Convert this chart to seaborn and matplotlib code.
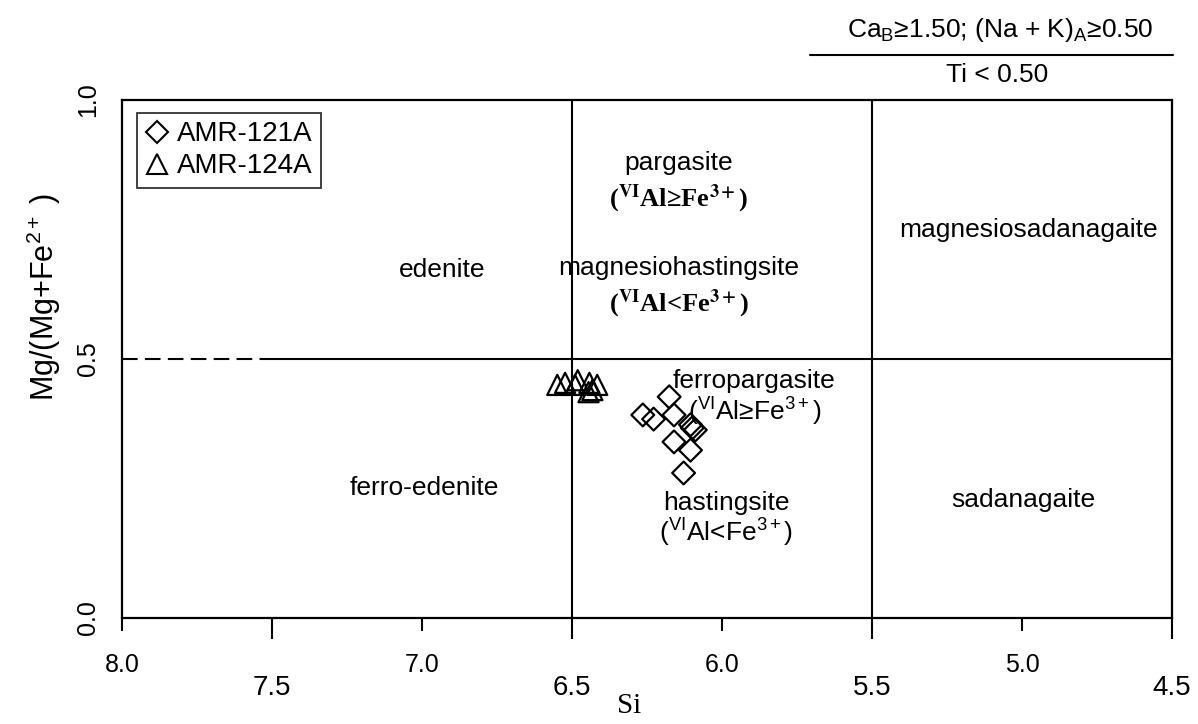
import matplotlib
matplotlib.use("Agg")
import matplotlib.pyplot as plt
from matplotlib.lines import Line2D
import seaborn as sns
import pandas as pd

# Amphibole analyses (Si apfu vs Mg/(Mg+Fe2+))
si_121a = [6.176, 6.264, 6.228, 6.160, 6.105, 6.089, 6.099, 6.160, 6.105, 6.128]
mg_121a = [0.427, 0.392, 0.384, 0.392, 0.373, 0.363, 0.367, 0.340, 0.324, 0.280]

si_124a = [6.549, 6.523, 6.490, 6.481, 6.442, 6.416, 6.445, 6.432]
mg_124a = [0.450, 0.454, 0.450, 0.459, 0.454, 0.450, 0.436, 0.440]

samples = ["AMR-121A", "AMR-124A"]

x_major = [8.0, 7.0, 6.0, 5.0]
x_minor = [7.5, 6.5, 5.5, 4.5]
y_ticks = [0.0, 0.5, 1.0]

sns.set_style("ticks")
plt.rcParams["font.family"] = ["Liberation Sans", "DejaVu Sans"]
plt.rcParams["mathtext.fontset"] = "custom"
plt.rcParams["mathtext.rm"] = "Liberation Sans"
plt.rcParams["mathtext.it"] = "Liberation Sans:italic"
plt.rcParams["mathtext.bf"] = "Liberation Sans:bold"
for key in ("text.color", "axes.labelcolor", "xtick.color", "ytick.color",
            "axes.edgecolor"):
    plt.rcParams[key] = "black"

W, H = 1198, 724
fig = plt.figure(figsize=(W / 100, H / 100), dpi=100)
ax = fig.add_axes([122 / W, 1 - 618 / H, 1050 / W, 518 / H])

df121 = pd.DataFrame({"Si": si_121a, "Mg#": mg_121a})
df124 = pd.DataFrame({"Si": si_124a, "Mg#": mg_124a})

sns.scatterplot(data=df121, x="Si", y="Mg#", marker="D", s=135,
                facecolor="none", edgecolor="black", linewidth=1.6, ax=ax,
                zorder=4)
sns.scatterplot(data=df124, x="Si", y="Mg#", marker="^", s=210,
                facecolor="none", edgecolor="black", linewidth=1.6, ax=ax,
                zorder=4)

ax.set_xlim(8.0, 4.5)
ax.set_ylim(0.0, 1.0)

# Classification boundaries
lw = 1.5
ax.plot([6.5, 6.5], [0, 1], color="black", lw=lw, zorder=2)
ax.plot([5.5, 5.5], [0, 1], color="black", lw=lw, zorder=2)
ax.plot([8.0, 7.5], [0.5, 0.5], color="black", lw=lw, ls=(0, (7.5, 3.5)), zorder=2)
ax.plot([7.5, 4.5], [0.5, 0.5], color="black", lw=lw, zorder=2)

for sp in ax.spines.values():
    sp.set_linewidth(1.6)
    sp.set_color("black")

# Staggered x tick labels
ax.set_xticks(x_major, labels=[f"{v:.1f}" for v in x_major])
ax.set_xticks(x_minor, labels=[f"{v:.1f}" for v in x_minor], minor=True)
ax.tick_params(axis="x", which="major", length=9, width=1.5, pad=16,
               labelsize=18, color="black")
ax.tick_params(axis="x", which="minor", length=15, width=1.5, pad=26,
               labelsize=20, color="black")
ax.set_yticks(y_ticks, labels=[f"{v:.1f}" for v in y_ticks])
ax.tick_params(axis="y", which="major", length=0, pad=16, labelsize=18)
for lab in ax.get_yticklabels():
    lab.set_rotation(90)
    lab.set_va("center")

ax.set_xlabel("Si", fontsize=21, family="Liberation Serif")
ax.xaxis.label.set_va("center")
ax.xaxis.set_label_coords(0.483, -0.170)
ax.set_ylabel(r"Mg/(Mg+Fe$^{2+}$ )", fontsize=22)
ax.yaxis.label.set_va("center")
ax.yaxis.set_label_coords(-0.074, 0.62)

# Field names
lab_kw = dict(ha="center", va="center", fontsize=19, zorder=3)
serif_kw = dict(ha="center", va="center", fontsize=19, family="Liberation Serif",
                weight="bold", math_fontfamily="stix", zorder=3)

ax.text(6.934, 0.672, "edenite", **lab_kw)
ax.text(6.992, 0.251, "ferro-edenite", **lab_kw)
ax.text(6.144, 0.878, "pargasite", **lab_kw)
ax.text(6.144, 0.809, r"($^{\mathbf{VI}}$Al≥Fe$^{\mathbf{3+}}$)", **serif_kw)
ax.text(6.144, 0.676, "magnesiohastingsite", **lab_kw)
ax.text(6.144, 0.606, r"($^{\mathbf{VI}}$Al<Fe$^{\mathbf{3+}}$)", **serif_kw)
ax.text(4.979, 0.749, "magnesiosadanagaite", **lab_kw)
ax.text(5.892, 0.4575, "ferropargasite", **lab_kw)
ax.text(5.892, 0.398, r"($^{\mathrm{VI}}$Al≥Fe$^{3+}$)", **lab_kw)
ax.text(5.985, 0.222, "hastingsite", **lab_kw)
ax.text(5.985, 0.164, r"($^{\mathrm{VI}}$Al<Fe$^{3+}$)", **lab_kw)
ax.text(4.997, 0.228, "sadanagaite", **lab_kw)

# Legend
handles = [
    Line2D([], [], marker="D", ls="none", ms=11, mfc="none", mec="black", mew=1.5),
    Line2D([], [], marker="^", ls="none", ms=14, mfc="none", mec="black", mew=1.5),
]
leg = ax.legend(handles, samples, loc="upper left", bbox_to_anchor=(0.014, 0.975),
                fontsize=20, frameon=True, fancybox=False, handlelength=0.85,
                handletextpad=0.3, borderpad=0.3, borderaxespad=0,
                labelspacing=0.22)
leg.get_frame().set_edgecolor("black")
leg.get_frame().set_linewidth(1.3)

# Chemical constraints above the diagram
fig.text(1000 / W, 1 - 30 / H, r"Ca$_{\mathrm{B}}$≥1.50; (Na + K)$_{\mathrm{A}}$≥0.50",
         ha="center", va="center", fontsize=19)
fig.add_artist(Line2D([810 / W, 1173 / W], [1 - 55 / H, 1 - 55 / H],
                      color="black", lw=1.5))
fig.text(997 / W, 1 - 75 / H, "Ti < 0.50", ha="center", va="center", fontsize=19)

fig.savefig("out.png", dpi=100)
